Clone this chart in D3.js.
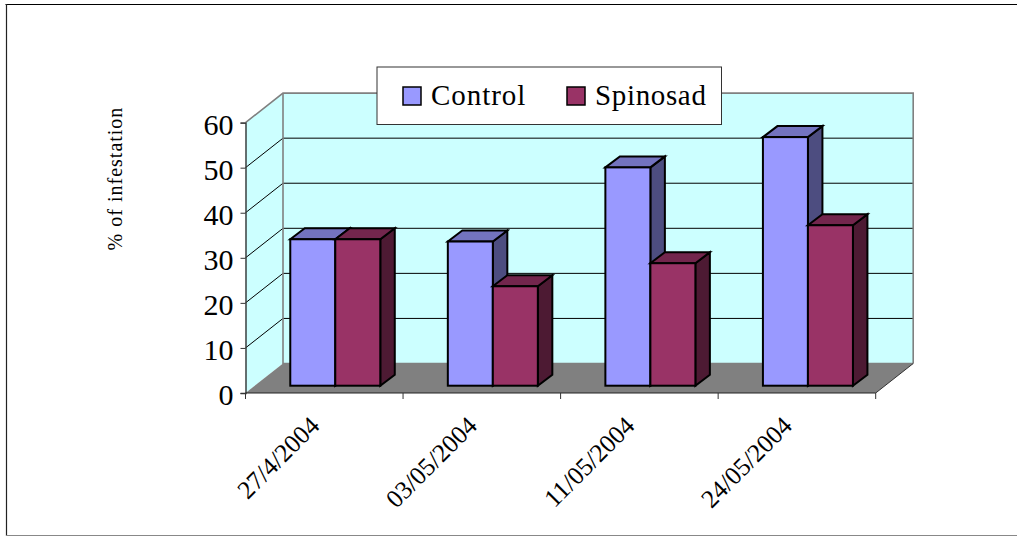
<!DOCTYPE html>
<html><head><meta charset="utf-8">
<script src="https://cdn.jsdelivr.net/npm/d3@7/dist/d3.min.js"></script>
<style>html,body{margin:0;padding:0;background:#fff}svg{display:block}text{font-family:"Liberation Serif",serif;fill:#000}</style>
</head><body><svg id="c" width="1017" height="536"></svg>
<script>
const categories=["27/4/2004","03/05/2004","11/05/2004","24/05/2004"];
const seriesNames=["Control","Spinosad"];
const control=[32.4,31.9,48.3,55];
const spinosad=[32.4,22,27.1,35.5];
const yTicks=[0,10,20,30,40,50,60];
const colors={Control:{front:"#9999ff",top:"#7373bf",side:"#4d4d80"},Spinosad:{front:"#993366",top:"#73264d",side:"#4d1a33"}};

const svg=d3.select("#c");
const x=d3.scaleBand().domain(categories).range([245.5,875.7]);
const y=d3.scaleLinear().domain([0,60]).range([393,122.6]);
const depth={dx:37.5,dy:-29.5};
const barBack={dx:14.5,dy:-11};
const barFront={dx:11,dy:-7.3};
const xs=d3.scaleBand().domain(seriesNames).range([-45,45]);
const poly=p=>p.map(a=>a.join(",")).join(" ");

// frame
svg.append("line").attr("x1",5.5).attr("x2",1017).attr("y1",4.5).attr("y2",4.5).attr("stroke","#000").attr("stroke-width",1.2);
svg.append("line").attr("x1",6.5).attr("x2",6.5).attr("y1",4).attr("y2",536).attr("stroke","#222").attr("stroke-width",1.2);
svg.append("line").attr("x1",6).attr("x2",1017).attr("y1",535.5).attr("y2",535.5).attr("stroke","#888").attr("stroke-width",1);

const [x0,x1]=x.range(), y0=y(0), yT=y(60), {dx,dy}=depth;
// walls
svg.append("polygon").attr("points",poly([[x0,y0],[x0+dx,y0+dy],[x0+dx,yT+dy],[x0,yT]])).attr("fill","#ccffff");
svg.append("polygon").attr("points",poly([[x0+dx,y0+dy],[x1+dx,y0+dy],[x1+dx,yT+dy],[x0+dx,yT+dy]])).attr("fill","#ccffff");
svg.append("polygon").attr("points",poly([[x0,y0],[x1,y0],[x1+dx,y0+dy],[x0+dx,y0+dy]])).attr("fill","#808080");

// gridlines
yTicks.filter(t=>t>0&&t<60).forEach(t=>{
  svg.append("polyline").attr("points",poly([[x0,y(t)],[x0+dx,y(t)+dy],[x1+dx,y(t)+dy]])).attr("fill","none").attr("stroke","#000").attr("stroke-width",1);
});
// wall outlines
svg.append("polyline").attr("points",poly([[x0,yT],[x0+dx,yT+dy],[x1+dx,yT+dy],[x1+dx,y0+dy]])).attr("fill","none").attr("stroke","#808080").attr("stroke-width",1.6);
svg.append("polyline").attr("points",poly([[x0+dx,yT+dy],[x0+dx,y0+dy],[x1+dx,y0+dy]])).attr("fill","none").attr("stroke","#808080").attr("stroke-width",1.6);
svg.append("line").attr("x1",x1).attr("y1",y0).attr("x2",x1+dx).attr("y2",y0+dy).attr("stroke","#333").attr("stroke-width",1);

// bars
const rows=seriesNames.map((s,i)=>({s,vals:i===0?control:spinosad}));
categories.forEach((c,ci)=>{
  rows.forEach(({s,vals})=>{
    const col=colors[s], v=vals[ci];
    const cx=x(c)+x.bandwidth()/2+barFront.dx;
    const l=cx+xs(s), r=l+xs.bandwidth();
    const b=y(0)+barFront.dy, t=b-(y(0)-y(v))*45.2/45.07;
    const ox=barBack.dx, oy=barBack.dy;
    const g=svg.append("g").attr("stroke","#000").attr("stroke-width",2).attr("stroke-linejoin","miter");
    g.append("polygon").attr("points",poly([[r,t],[r+ox,t+oy],[r+ox,b+oy],[r,b]])).attr("fill",col.side);
    g.append("polygon").attr("points",poly([[l,t],[l+ox,t+oy],[r+ox,t+oy],[r,t]])).attr("fill",col.top);
    g.append("rect").attr("x",l).attr("y",t).attr("width",r-l).attr("height",b-t).attr("fill",col.front);
  });
});

// axes
const gy=svg.append("g").attr("transform",`translate(${x0},0)`).call(d3.axisLeft(y).tickValues(yTicks).tickSize(5).tickPadding(7));
gy.select(".domain").attr("stroke","#333").attr("stroke-width",1.4);
gy.selectAll(".tick line").attr("stroke","#333");
gy.selectAll("text").style("font-family",'"Liberation Serif",serif').style("font-size","30px").attr("fill","#000").attr("dy","0.38em");

svg.append("line").attr("x1",x0).attr("x2",x1).attr("y1",y0).attr("y2",y0).attr("stroke","#222").attr("stroke-width",1.2);
[...categories.map(c=>x(c)),x1].forEach(px=>{
  svg.append("line").attr("x1",px).attr("x2",px).attr("y1",y0).attr("y2",y0+6).attr("stroke","#333").attr("stroke-width",1);
});
categories.forEach(c=>{
  svg.append("text").attr("text-anchor","end")
    .attr("transform",`translate(${x(c)+x.bandwidth()/2-16},${y0+21.5}) rotate(-45)`)
    .attr("dy","0.7em")
    .style("font-size","25.5px").text(c);
});

// y title
svg.append("text").attr("text-anchor","middle").attr("transform","translate(121.5,178.5) rotate(-90)")
  .style("font-size","20px").style("letter-spacing","1px").text("% of infestation");

// legend
svg.append("rect").attr("x",377).attr("y",67).attr("width",344.5).attr("height",57.5).attr("fill","#fff").attr("stroke","#333").attr("stroke-width",1);
const lg=[{s:"Control",sx:403,tx:431,ls:"0.95px"},{s:"Spinosad",sx:567,tx:595,ls:"0.65px"}];
lg.forEach(d=>{
  svg.append("rect").attr("x",d.sx).attr("y",87).attr("width",18).attr("height",18).attr("fill",colors[d.s].front).attr("stroke","#000").attr("stroke-width",1.5);
  svg.append("text").attr("x",d.tx).attr("y",105).style("font-size","29px").style("letter-spacing",d.ls).text(d.s);
});
</script></body></html>
